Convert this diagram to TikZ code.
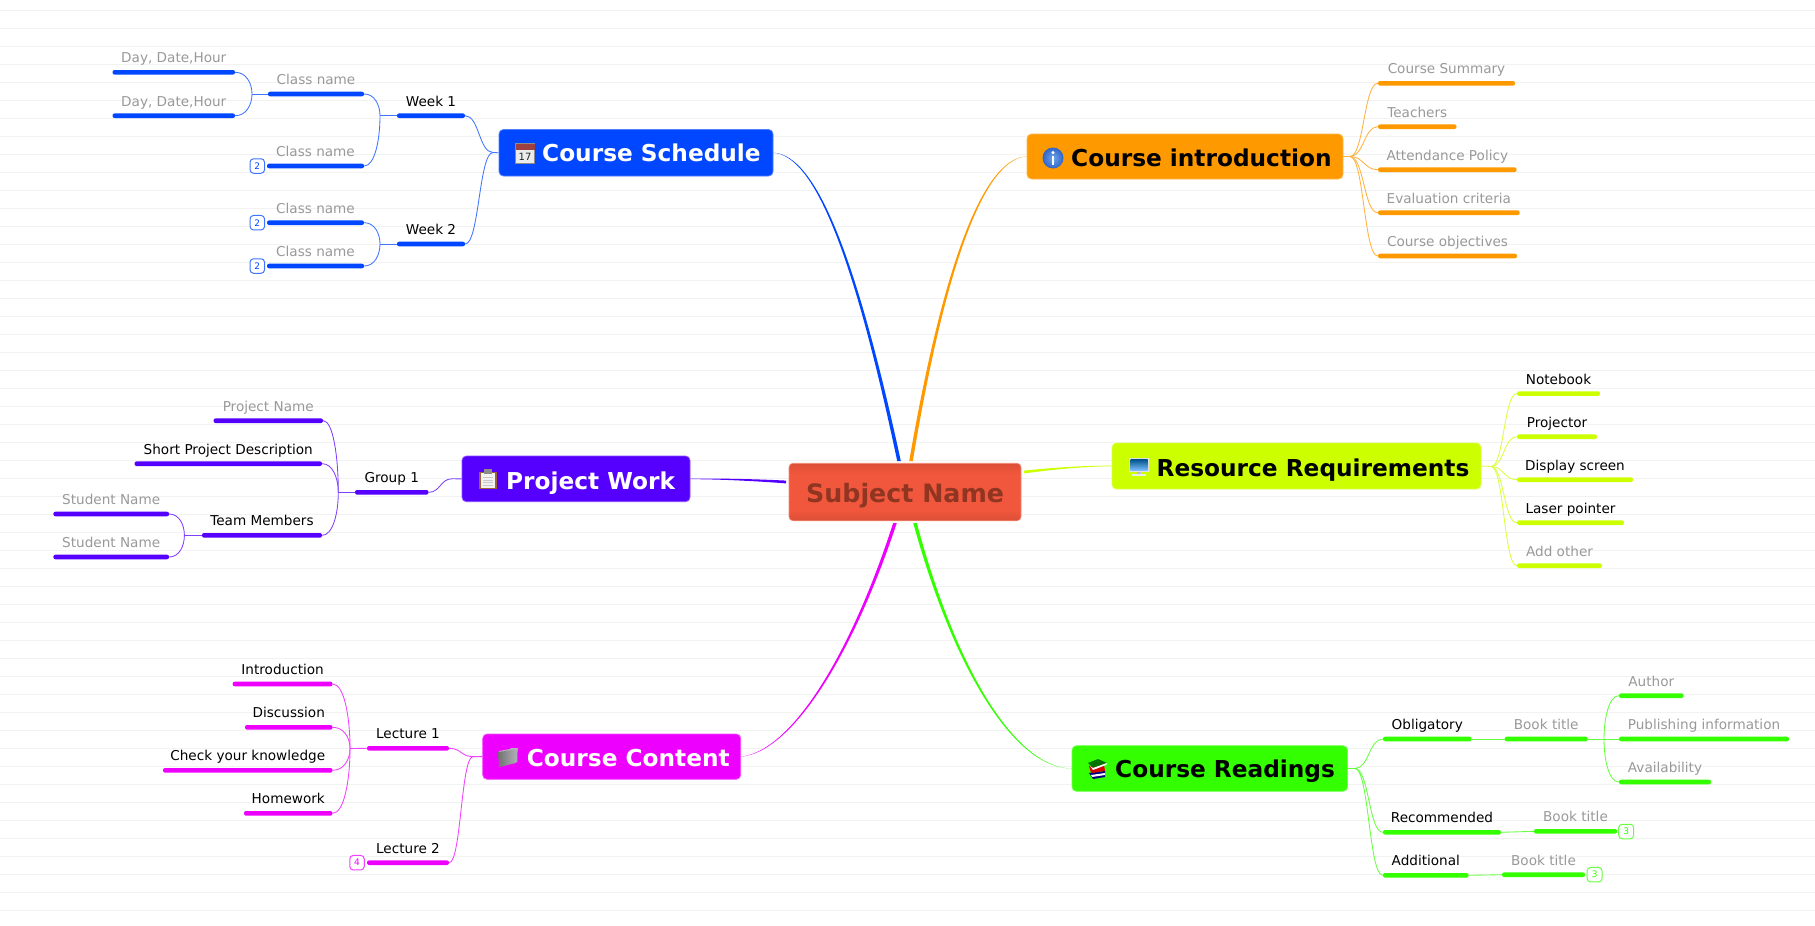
\documentclass[tikz,border=0pt]{standalone}
\usepackage{fontspec}
\setmainfont{DejaVu Sans}
\usetikzlibrary{calc}
\definecolor{cblue}{HTML}{0047FF}
\definecolor{corange}{HTML}{FF9900}
\definecolor{clime}{HTML}{CCFF00}
\definecolor{cgreen}{HTML}{33FF00}
\definecolor{cmag}{HTML}{EE00FF}
\definecolor{cpur}{HTML}{5500FF}
\definecolor{cgrid}{HTML}{F2F2F2}
\definecolor{cgrey}{HTML}{999999}
\definecolor{subja}{HTML}{DB4E36}
\definecolor{subjb}{HTML}{F0573C}
\definecolor{subjt}{HTML}{8F3522}
\definecolor{infoa}{HTML}{6FA3EC}
\definecolor{infob}{HTML}{2F66C8}
\pgfdeclareverticalshading{subjshade}{100bp}{color(0bp)=(subja); color(25bp)=(subja); color(34bp)=(subjb); color(66bp)=(subjb); color(75bp)=(subja); color(100bp)=(subja)}
\tikzset{
  x=1pt,y=-1pt,
  barnode/.style={fill=cur,draw=none,inner sep=0pt,minimum height=4.6pt,rounded corners=2pt},
  leaftext/.style={anchor=base,inner sep=0pt,font=\fontsize{13.6}{16}\selectfont},
  titletext/.style={anchor=base west,inner sep=0pt,font=\fontsize{23.25}{28}\selectfont\bfseries},
  boxnode/.style={fill=cur,draw=cur!70!white,line width=.8pt,inner sep=0pt,rounded corners=4.5pt},
  link/.style={draw=cur!75!white,line width=.85pt},
  badge/.style={fill=white,draw=cur!75!white,line width=1pt,rounded corners=3.5pt,inner sep=0pt,minimum width=14.5pt,minimum height=14.5pt,text=cur,font=\fontsize{9}{10}\selectfont},
  gridline/.style={draw=cgrid,line width=1pt}
}
% name, x1, x2, y, text colour, text
\newcommand{\mmleaf}[6]{%
  \pgfmathsetmacro\mmmid{(#2+#3)/2}%
  \pgfmathsetmacro\mmwid{#3-#2}%
  \node[barnode,minimum width=\mmwid pt] (#1) at (\mmmid,#4) {};
  \pgfmathsetmacro\mmbase{#4-9.5}%
  \node[leaftext,text=#5] (#1t) at (\mmmid,\mmbase) {#6};
}
% name, x1, y1, x2, y2
\newcommand{\mmbox}[5]{%
  \pgfmathsetmacro\mmmid{(#2+#4)/2}%
  \pgfmathsetmacro\mmmidy{(#3+#5)/2}%
  \pgfmathsetmacro\mmwid{#4-#2}%
  \pgfmathsetmacro\mmhei{#5-#3}%
  \node[boxnode,minimum width=\mmwid pt,minimum height=\mmhei pt] (#1) at (\mmmid,\mmmidy) {};
}
% hook curve: bar end -> junction (vertical on arrival)
\newcommand{\mmhook}[2]{%
  \draw[link] let \p1=(#1),\p2=(#2) in (\p1) .. controls ({0.35*\x1+0.65*\x2},\y1) and (\x2,{0.5*\y1+0.5*\y2}) .. (\p2);
}
% S curve between two points
\newcommand{\mmess}[2]{%
  \draw[link] let \p1=(#1),\p2=(#2) in (\p1) .. controls ({0.5*\x1+0.5*\x2},\y1) and ({0.5*\x1+0.5*\x2},\y2) .. (\p2);
}
% colour, from, c1, c2, to, width direction
\newcommand{\mmtaper}[6]{%
  \fill[#1] ($(#2)-0.4*(#6)$) .. controls ($(#3)-0.7*(#6)$) and ($(#4)-1.4*(#6)$) .. ($(#5)-2*(#6)$)
    -- ($(#5)+2*(#6)$) .. controls ($(#4)+1.4*(#6)$) and ($(#3)+0.7*(#6)$) .. ($(#2)+0.4*(#6)$) -- cycle;
}
\begin{document}
\begin{tikzpicture}
\useasboundingbox (0,0) rectangle (1815,926);
\fill[white] (0,0) rectangle (1815,926);
\foreach \k in {0,...,50} { \pgfmathsetmacro\yy{10.3+18*\k} \draw[gridline] (0,\yy) -- (1815,\yy); }

% ---- Subject
\node[shading=subjshade,draw=subjb!70!white,line width=.6pt,rounded corners=4pt,inner sep=0pt,minimum width=232pt,minimum height=57.5pt] (subject) at (905,492) {};
\node[titletext,text=subjt,font=\fontsize{25.3}{30}\selectfont\bfseries] (subjectt) at (806,502.2) {Subject Name};
\coordinate (eblue) at (899,461);
\coordinate (eorange) at (911,461);
\coordinate (emag) at (895,523);
\coordinate (egreen) at (915,523);
\coordinate (elime) at (1024,472);
\coordinate (epur) at (786,482);

% ---- Course Schedule
\colorlet{cur}{cblue}
\mmbox{schedule}{499}{129.5}{773}{176}
\node[titletext,text=white] (schedulet) at (542,161.5) {Course Schedule};
\mmleaf{week1}{397}{465}{115.7}{black}{Week 1}
\mmleaf{week2}{397}{465}{244}{black}{Week 2}
\mmleaf{cn1}{268}{364}{94}{cgrey}{Class name}
\mmleaf{cn2}{267}{364}{166}{cgrey}{Class name}
\mmleaf{cn3}{267}{364}{222.7}{cgrey}{Class name}
\mmleaf{cn4}{267}{364}{266}{cgrey}{Class name}
\mmleaf{day1}{112.5}{235}{72.3}{cgrey}{Day, Date,Hour}
\mmleaf{day2}{112.5}{235}{115.7}{cgrey}{Day, Date,Hour}
\node[badge] (b1) at (257.3,166) {2};
\node[badge] (b2) at (257.3,222.7) {2};
\node[badge] (b3) at (257.3,266) {2};
\coordinate (js) at (493,152.5);
\coordinate (jw1) at (380,115.7);
\coordinate (jw2) at (380,244);
\coordinate (jc1) at (252,94);
\draw[link] (js) -- (schedule.west);
\mmess{week1.east}{js}
\mmess{week2.east}{js}
\mmhook{cn1.east}{jw1}
\mmhook{cn2.east}{jw1}
\draw[link] (jw1) -- (week1.west);
\mmhook{cn3.east}{jw2}
\mmhook{cn4.east}{jw2}
\draw[link] (jw2) -- (week2.west);
\mmhook{day1.east}{jc1}
\mmhook{day2.east}{jc1}
\draw[link] (jc1) -- (cn1.west);
\mmtaper{cblue}{schedule.east}{815,155}{855,255}{eblue}{0.9,0}

% ---- Course introduction
\colorlet{cur}{corange}
\mmbox{intro}{1027}{134}{1343}{179}
\node[titletext,text=black] (introt) at (1071,166) {Course introduction};
\mmleaf{i1}{1378}{1515}{83.3}{cgrey}{Course Summary}
\mmleaf{i2}{1378}{1456.5}{126.7}{cgrey}{Teachers}
\mmleaf{i3}{1378}{1516.6}{169.7}{cgrey}{Attendance Policy}
\mmleaf{i4}{1378}{1519.7}{212.7}{cgrey}{Evaluation criteria}
\mmleaf{i5}{1378}{1517}{256}{cgrey}{Course objectives}
\coordinate (ji) at (1350,156.5);
\draw[link] (intro.east) -- (ji);
\foreach \nm in {i1,i2,i3,i4,i5} { \mmess{ji}{\nm.west} }
\mmtaper{corange}{intro.west}{985,158}{945,260}{eorange}{0.9,0}

% ---- Resource Requirements
\colorlet{cur}{clime}
\mmbox{resource}{1112}{443}{1481}{489}
\node[titletext,text=black] (resourcet) at (1156.5,476.2) {Resource Requirements};
\mmleaf{r1}{1517}{1600}{393.6}{black}{Notebook}
\mmleaf{r2}{1517}{1597}{436.7}{black}{Projector}
\mmleaf{r3}{1517}{1633}{479.7}{black}{Display screen}
\mmleaf{r4}{1517}{1624}{522.7}{black}{Laser pointer}
\mmleaf{r5}{1517}{1602}{565.7}{cgrey}{Add other}
\coordinate (jr) at (1491,466.5);
\draw[link] (resource.east) -- (jr);
\foreach \nm in {r1,r2,r3,r4,r5} { \mmess{jr}{\nm.west} }
\mmtaper{clime}{resource.west}{1080,466}{1050,469}{elime}{0,0.7}

% ---- Course Readings
\colorlet{cur}{cgreen}
\mmbox{readings}{1072}{745.7}{1347.5}{791.3}
\node[titletext,text=black] (readingst) at (1115,777.6) {Course Readings};
\mmleaf{oblig}{1383}{1471.5}{739}{black}{Obligatory}
\mmleaf{bk1}{1504.7}{1587.7}{739}{cgrey}{Book title}
\mmleaf{auth}{1619}{1683.6}{695.7}{cgrey}{Author}
\mmleaf{pub}{1619}{1789}{739}{cgrey}{Publishing information}
\mmleaf{avail}{1619}{1711}{782}{cgrey}{Availability}
\mmleaf{recom}{1383}{1501}{832.3}{black}{Recommended}
\mmleaf{bk2}{1534}{1617}{831.3}{cgrey}{Book title}
\mmleaf{addit}{1383}{1468.6}{875.3}{black}{Additional}
\mmleaf{bk3}{1502}{1585}{874.7}{cgrey}{Book title}
\node[badge,minimum width=15pt] (b4) at (1626.2,831.5) {3};
\node[badge,minimum width=15pt] (b5) at (1594.6,874.7) {3};
\coordinate (jg) at (1355,768.5);
\coordinate (jb) at (1604,739);
\draw[link] (readings.east) -- (jg);
\foreach \nm in {oblig,recom,addit} { \mmess{jg}{\nm.west} }
\draw[link] (oblig.east) -- (bk1.west);
\draw[link] (bk1.east) -- (pub.west);
\mmhook{auth.west}{jb}
\mmhook{avail.west}{jb}
\mmess{recom.east}{bk2.west}
\mmess{addit.east}{bk3.west}
\mmtaper{cgreen}{readings.west}{1015,768}{955,670}{egreen}{0.9,0}

% ---- Course Content
\colorlet{cur}{cmag}
\mmbox{content}{482.7}{734}{740.7}{779.3}
\node[titletext,text=white] (contentt) at (526.7,766) {Course Content};
\mmleaf{lec1}{367}{449}{748.3}{black}{Lecture 1}
\mmleaf{lec2}{367}{449}{862.7}{black}{Lecture 2}
\mmleaf{c1}{232.7}{332.5}{684}{black}{Introduction}
\mmleaf{c2}{245}{332.5}{727.3}{black}{Discussion}
\mmleaf{c3}{163}{332.5}{770.3}{black}{Check your knowledge}
\mmleaf{c4}{244}{332.5}{813.3}{black}{Homework}
\node[badge] (b6) at (357,862.7) {4};
\coordinate (jc) at (473,756.6);
\coordinate (jl) at (350,748.5);
\draw[link] (jc) -- (content.west);
\mmess{lec1.east}{jc}
\mmess{lec2.east}{jc}
\foreach \nm in {c1,c2,c3,c4} { \mmhook{\nm.east}{jl} }
\draw[link] (jl) -- (lec1.west);
\mmtaper{cmag}{content.east}{790,752}{850,660}{emag}{0.9,0}

% ---- Project Work
\colorlet{cur}{cpur}
\mmbox{project}{462}{456}{690}{501.7}
\node[titletext,text=white] (projectt) at (506,489.4) {Project Work};
\mmleaf{grp}{355}{428.5}{492.3}{black}{Group 1}
\mmleaf{p1}{213.5}{323}{420.7}{cgrey}{Project Name}
\mmleaf{p2}{134.5}{322}{463.7}{black}{Short Project Description}
\mmleaf{p3}{202}{322}{535.3}{black}{Team Members}
\mmleaf{st1}{53.4}{169}{514}{cgrey}{Student Name}
\mmleaf{st2}{53.4}{169}{557}{cgrey}{Student Name}
\coordinate (jp) at (452,478.8);
\coordinate (jg1) at (338.3,492.3);
\coordinate (jt) at (184.4,535.3);
\draw[link] (jp) -- (project.west);
\mmess{grp.east}{jp}
\foreach \nm in {p1,p2,p3} { \mmhook{\nm.east}{jg1} }
\draw[link] (jg1) -- (grp.west);
\mmhook{st1.east}{jt}
\mmhook{st2.east}{jt}
\draw[link] (jt) -- (p3.west);
\mmtaper{cpur}{project.east}{720,478.8}{755,480}{epur}{0,0.7}

% ---- Icons
% calendar
\fill[white!92!black] (515,144) rectangle (535,163);
\draw[black!45,line width=.6pt] (515.5,143.5) rectangle (534.5,162.8);
\fill[red!50!black!75!white] (515.5,143.5) rectangle (534.5,150);
\node[inner sep=0pt,font=\fontsize{10}{11}\selectfont,text=black!85] (calnum) at (525,157) {17};
% info
\shade[inner color=infoa,outer color=infob] (1053,158) circle (10.5);
\fill[white] (1051.6,156) rectangle (1054.4,165);
\fill[white] (1053,152.6) circle (1.7);
% monitor
\fill[black!12] (1129,458) rectangle (1149,472);
\shade[top color=blue!40!cyan!55!black,bottom color=cyan!50!blue!50!white] (1130.5,459.5) rectangle (1147.5,470.5);
\fill[black!25] (1137,472) rectangle (1141,474);
\fill[black!8] (1132,474) rectangle (1146,476);
% books
\fill[blue!50!black] (1089,773) -- (1105,771) -- (1105,777) -- (1093,779) -- cycle;
\fill[white] (1091,775) -- (1105,773) -- (1105,775) -- (1092,777) -- cycle;
\fill[red!85!black] (1089,766) -- (1104,765) -- (1105,771) -- (1091,773) -- cycle;
\fill[green!45!black] (1088,763) -- (1098,759) -- (1107,763) -- (1093,768) -- cycle;
\fill[white] (1090,766) -- (1093,768) -- (1107,763) -- (1106,765) -- (1093,770) -- cycle;
% folder
\shade[top color=black!30,bottom color=black!45] (499,751) -- (510,749) -- (511,748) -- (518,748) -- (516,763) -- (499,767) -- cycle;
\shade[left color=black!55,right color=blue!15!black!30] (498.5,752) -- (517,749.5) -- (517.5,762) -- (499,767) -- cycle;
% clipboard
\fill[brown!80!black] (479,472) rectangle (497,489);
\fill[white!95!black] (481,473) rectangle (495,487.5);
\fill[black!45] (484,469) rectangle (492,474);
\foreach \yy in {477,479.5,482,484.5} { \fill[black!22] (483,\yy) rectangle (493,\yy+1.2); }
\end{tikzpicture}
\end{document}
